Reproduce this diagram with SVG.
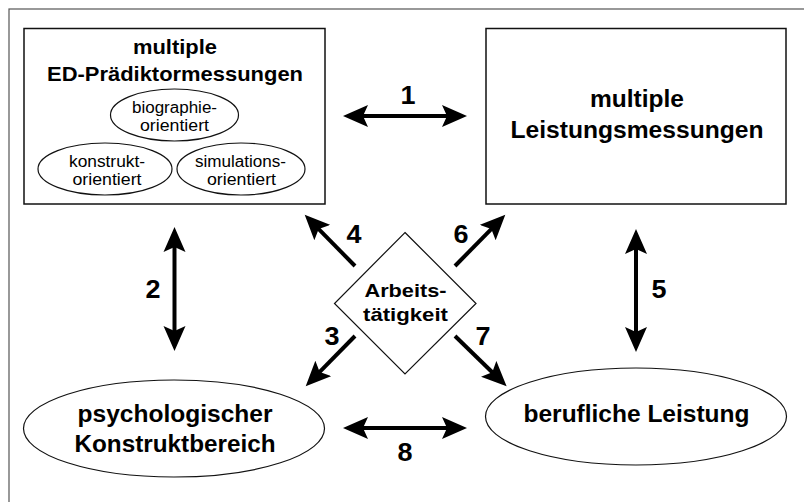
<svg xmlns="http://www.w3.org/2000/svg" width="804" height="502" viewBox="0 0 804 502">
<style>
.frame{fill:none;stroke:#555;stroke-width:1.2}
.box{fill:#fff;stroke:#111;stroke-width:1.5}
.ell{fill:#fff;stroke:#111;stroke-width:1.2}
.t{font-family:"Liberation Sans",Arial,sans-serif;text-anchor:middle;fill:#000}
.b{font-weight:bold}
.arr{stroke:#000;stroke-width:4;fill:none}
</style>
<defs>
<marker id="ah" markerUnits="userSpaceOnUse" markerWidth="26" markerHeight="24" refX="6" refY="11" orient="auto-start-reverse" viewBox="0 0 26 22">
<path d="M0,0 L25,11 L0,22 L5,11 Z" fill="#000"/>
</marker>
</defs>
<rect class="frame" x="9" y="9" width="820" height="520"/>
<g id="node-ed">
<rect class="box" x="24" y="28.5" width="301" height="175.5"/>
<text class="t b" x="175" y="54" font-size="20.5" textLength="84" lengthAdjust="spacingAndGlyphs">multiple</text>
<text class="t b" x="175" y="80.5" font-size="20.5" textLength="256" lengthAdjust="spacingAndGlyphs">ED-Prädiktormessungen</text>
</g>
<g id="node-bio">
<ellipse class="ell" cx="174.5" cy="115" rx="64" ry="26"/>
<text class="t" x="174.5" y="113" font-size="16" textLength="85" lengthAdjust="spacingAndGlyphs">biographie-</text>
<text class="t" x="174.5" y="131" font-size="16" textLength="69" lengthAdjust="spacingAndGlyphs">orientiert</text>
</g>
<g id="node-konstrukt">
<ellipse class="ell" cx="105" cy="169" rx="67" ry="26"/>
<text class="t" x="107" y="167" font-size="16" textLength="76" lengthAdjust="spacingAndGlyphs">konstrukt-</text>
<text class="t" x="107" y="185" font-size="16" textLength="69" lengthAdjust="spacingAndGlyphs">orientiert</text>
</g>
<g id="node-simulation">
<ellipse class="ell" cx="241" cy="169" rx="64" ry="26"/>
<text class="t" x="240.5" y="167" font-size="16" textLength="91" lengthAdjust="spacingAndGlyphs">simulations-</text>
<text class="t" x="241.5" y="185" font-size="16" textLength="69" lengthAdjust="spacingAndGlyphs">orientiert</text>
</g>
<g id="node-leistungsmessungen">
<rect class="box" x="486" y="28.5" width="300" height="175.5"/>
<text class="t b" x="637" y="107" font-size="23" textLength="94" lengthAdjust="spacingAndGlyphs">multiple</text>
<text class="t b" x="637" y="137.5" font-size="23" textLength="253" lengthAdjust="spacingAndGlyphs">Leistungsmessungen</text>
</g>
<g id="node-arbeit">
<polygon class="ell" points="405,232.5 476,303.5 405,374 334.5,303.5"/>
<text class="t b" x="405.5" y="297" font-size="19" textLength="82" lengthAdjust="spacingAndGlyphs">Arbeits-</text>
<text class="t b" x="405.5" y="321" font-size="19" textLength="85" lengthAdjust="spacingAndGlyphs">tätigkeit</text>
</g>
<g id="node-psych">
<ellipse class="ell" cx="174" cy="428.5" rx="150.5" ry="48.5"/>
<text class="t b" x="175" y="422" font-size="23" textLength="195" lengthAdjust="spacingAndGlyphs">psychologischer</text>
<text class="t b" x="175" y="452" font-size="23" textLength="201" lengthAdjust="spacingAndGlyphs">Konstruktbereich</text>
</g>
<g id="node-beruf">
<ellipse class="ell" cx="636" cy="416.5" rx="150.5" ry="48.5"/>
<text class="t b" x="636.5" y="422" font-size="23" textLength="226" lengthAdjust="spacingAndGlyphs">berufliche Leistung</text>
</g>
<g id="connectors">
<line class="arr" x1="362" y1="116" x2="448" y2="116" marker-start="url(#ah)" marker-end="url(#ah)"/>
<line class="arr" x1="174.5" y1="246" x2="174.5" y2="332" marker-start="url(#ah)" marker-end="url(#ah)"/>
<line class="arr" x1="636" y1="248" x2="636" y2="333" marker-start="url(#ah)" marker-end="url(#ah)"/>
<line class="arr" x1="355" y1="266" x2="318" y2="228.3" marker-end="url(#ah)"/>
<line class="arr" x1="455" y1="266" x2="492" y2="228.3" marker-end="url(#ah)"/>
<line class="arr" x1="355" y1="336" x2="319" y2="372.7" marker-end="url(#ah)"/>
<line class="arr" x1="455" y1="336" x2="493" y2="373" marker-end="url(#ah)"/>
<line class="arr" x1="362" y1="428" x2="448" y2="428" marker-start="url(#ah)" marker-end="url(#ah)"/>
<text class="t b" x="408" y="104" font-size="25" textLength="15" lengthAdjust="spacingAndGlyphs">1</text>
<text class="t b" x="153" y="298" font-size="25" textLength="15" lengthAdjust="spacingAndGlyphs">2</text>
<text class="t b" x="332" y="345" font-size="25" textLength="15" lengthAdjust="spacingAndGlyphs">3</text>
<text class="t b" x="354" y="243" font-size="25" textLength="15" lengthAdjust="spacingAndGlyphs">4</text>
<text class="t b" x="659" y="298" font-size="25" textLength="15" lengthAdjust="spacingAndGlyphs">5</text>
<text class="t b" x="461" y="243" font-size="25" textLength="15" lengthAdjust="spacingAndGlyphs">6</text>
<text class="t b" x="483" y="345" font-size="25" textLength="15" lengthAdjust="spacingAndGlyphs">7</text>
<text class="t b" x="405" y="461" font-size="25" textLength="15" lengthAdjust="spacingAndGlyphs">8</text>
</g>
</svg>
